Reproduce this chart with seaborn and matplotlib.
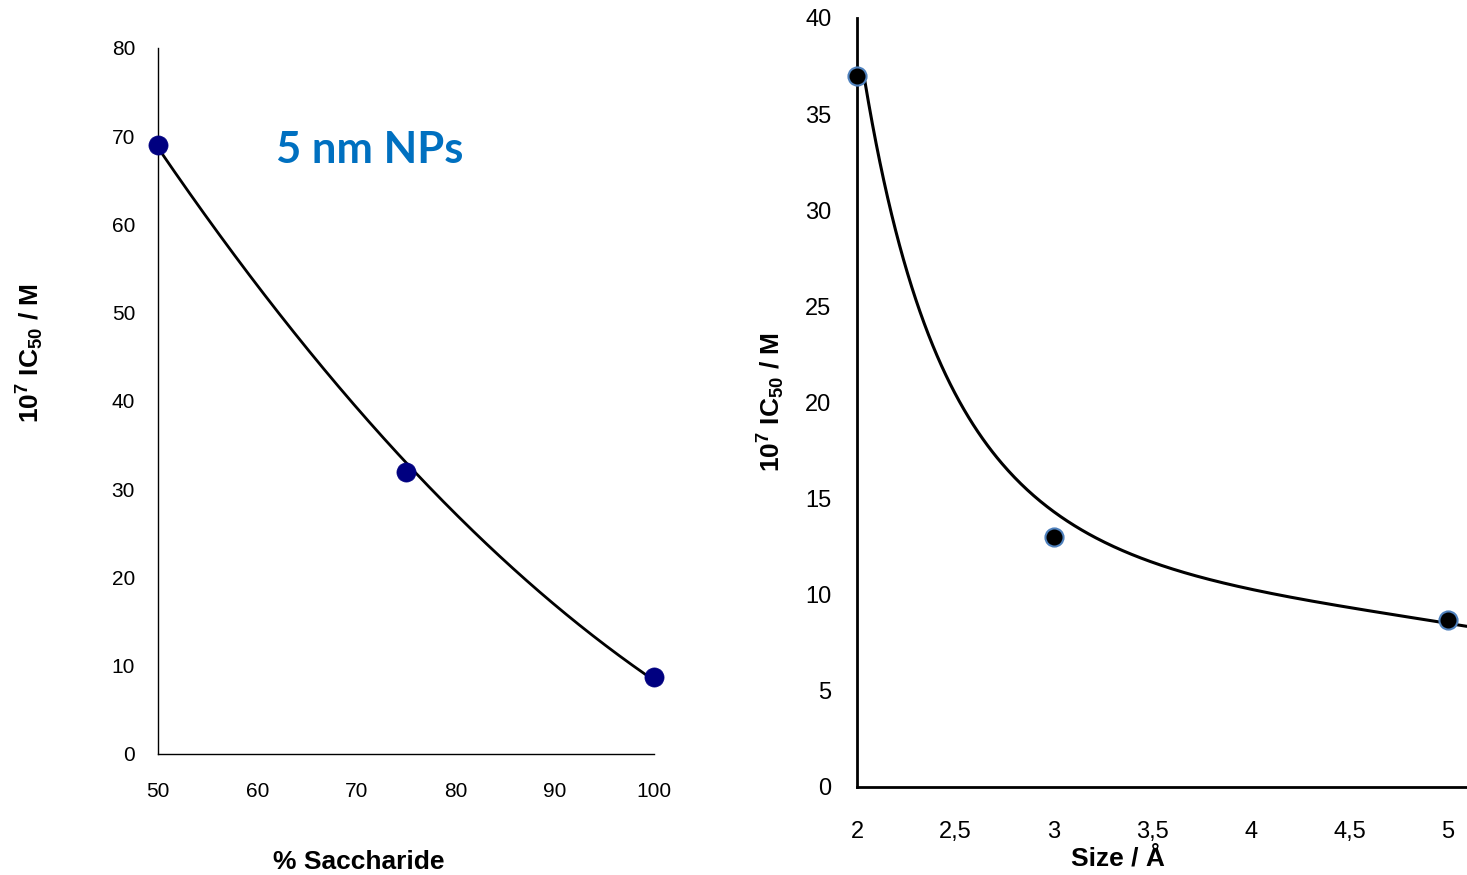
import numpy as np
import pandas as pd
import matplotlib
matplotlib.use("Agg")
import matplotlib.pyplot as plt
import seaborn as sns

# Measured IC50 values (10^7 M)
saccharide_pct = [50, 75, 100]
ic50_by_saccharide = [69, 32, 8.7]

size_angstrom = [2, 3, 5]
ic50_by_size = [37, 13, 8.7]

# Points along the trend curves
sacch_curve_x = [50.0, 55.9, 62.6, 69.35, 75.07, 81.1, 87.8, 94.56, 100.0]
sacch_curve_y = [68.6, 59.4, 49.2, 40.5, 32.6, 26.3, 18.6, 12.9, 8.4]

size_curve_x = [2.04, 2.083, 2.134, 2.184, 2.252, 2.32, 2.405, 2.523, 2.675, 2.726,
                2.845, 3.014, 3.183, 3.437, 3.69, 4.029, 4.367, 4.706, 5.0, 5.095]
size_curve_y = [37.0, 34.35, 31.2, 29.1, 27.1, 24.6, 22.56, 20.3, 17.5, 16.9,
                15.6, 14.2, 13.1, 11.9, 11.1, 10.25, 9.55, 8.95, 8.6, 8.3]

left_xticks = [50, 60, 70, 80, 90, 100]
left_yticks = [0, 10, 20, 30, 40, 50, 60, 70, 80]
right_xticks = [2, 2.5, 3, 3.5, 4, 4.5, 5]
right_xticklabels = ["2", "2,5", "3", "3,5", "4", "4,5", "5"]
right_yticks = [0, 5, 10, 15, 20, 25, 30, 35, 40]


def smooth_quadratic(x, y, n=300):
    x = np.asarray(x, float)
    coef = np.polyfit(x, np.asarray(y, float), 2)
    xs = np.linspace(x.min(), x.max(), n)
    return xs, np.polyval(coef, xs)


def smooth_loglog(x, y, deg=4, n=400):
    lx = np.log(np.asarray(x, float))
    ly = np.log(np.asarray(y, float))
    coef = np.polyfit(lx, ly, deg)
    xs = np.linspace(lx.min(), lx.max(), n)
    return np.exp(xs), np.exp(np.polyval(coef, xs))


sns.set_style("white")
plt.rcParams["font.family"] = ["Liberation Sans", "DejaVu Sans"]
plt.rcParams["text.color"] = "black"
plt.rcParams["axes.labelcolor"] = "black"
plt.rcParams["mathtext.fontset"] = "custom"
plt.rcParams["mathtext.bf"] = "Liberation Sans:bold"
plt.rcParams["mathtext.rm"] = "Liberation Sans:bold"
plt.rcParams["mathtext.default"] = "bf"

fig = plt.figure(figsize=(14.67, 8.75), dpi=100)
ax1 = fig.add_axes([0.1077, 0.1383, 0.3381, 0.8069])
ax2 = fig.add_axes([0.5842, 0.1006, 0.4158, 0.8789])

ylabel = "10$^{7}$ IC$_{50}$ / M"
label_size = 19

# Left panel: IC50 vs. % saccharide
sx, sy = smooth_quadratic(sacch_curve_x, sacch_curve_y)
df_s = pd.DataFrame({"x": saccharide_pct, "y": ic50_by_saccharide})
df_sc = pd.DataFrame({"x": sx, "y": sy})
sns.lineplot(data=df_sc, x="x", y="y", ax=ax1, color="black", linewidth=2.0, sort=False)
sns.scatterplot(data=df_s, x="x", y="y", ax=ax1, color="#000080", s=190,
                edgecolor="#000080", linewidth=0.5, zorder=3, clip_on=False)
ax1.set_xlim(50, 100)
ax1.set_ylim(0, 80)
ax1.set_xticks(left_xticks)
ax1.set_yticks(left_yticks)
for side in ["top", "right"]:
    ax1.spines[side].set_visible(False)
for side in ["left", "bottom"]:
    ax1.spines[side].set_color("black")
    ax1.spines[side].set_linewidth(1.0)
ax1.tick_params(axis="both", direction="out", length=4, width=1, color="#808080",
                labelsize=15, labelcolor="black")
ax1.tick_params(axis="y", pad=12.5)
ax1.tick_params(axis="x", pad=16)
ax1.set_xlabel("% Saccharide", fontsize=label_size, fontweight="bold", va="top")
ax1.xaxis.set_label_coords(0.405, -0.136)
ax1.set_ylabel(ylabel, fontsize=label_size, fontweight="bold")
ax1.yaxis.set_label_coords(-0.226, 0.568)
ax1.text(276 / 1467, 1 - 150 / 875, "5 nm NPs", transform=fig.transFigure,
         fontsize=31.4, fontweight="bold", color="#0070C0", family="Lato",
         ha="left", va="center")

# Right panel: IC50 vs. size
zx, zy = smooth_loglog(size_curve_x, size_curve_y)
df_z = pd.DataFrame({"x": size_angstrom, "y": ic50_by_size})
df_zc = pd.DataFrame({"x": zx, "y": zy})
sns.lineplot(data=df_zc, x="x", y="y", ax=ax2, color="black", linewidth=2.2, sort=False)
sns.scatterplot(data=df_z, x="x", y="y", ax=ax2, color="black", s=170,
                edgecolor="#4F81BD", linewidth=1.5, zorder=3, clip_on=False)
ax2.set_xlim(2, 5.0964)
ax2.set_ylim(0, 40)
ax2.set_xticks(right_xticks)
ax2.set_xticklabels(right_xticklabels)
ax2.set_yticks(right_yticks)
for side in ["top", "right"]:
    ax2.spines[side].set_visible(False)
for side in ["left", "bottom"]:
    ax2.spines[side].set_color("black")
    ax2.spines[side].set_linewidth(2.0)
ax2.tick_params(axis="both", direction="out", length=4.5, width=1.5, color="black",
                labelsize=17, labelcolor="black")
ax2.tick_params(axis="y", pad=14)
ax2.tick_params(axis="x", pad=20)
ax2.set_xlabel("Size / Å", fontsize=label_size, fontweight="bold", va="top")
ax2.xaxis.set_label_coords(0.428, -0.078)
ax2.set_ylabel(ylabel, fontsize=label_size, fontweight="bold")
ax2.yaxis.set_label_coords(-0.114, 0.5)

fig.savefig("out.png", dpi=100)
